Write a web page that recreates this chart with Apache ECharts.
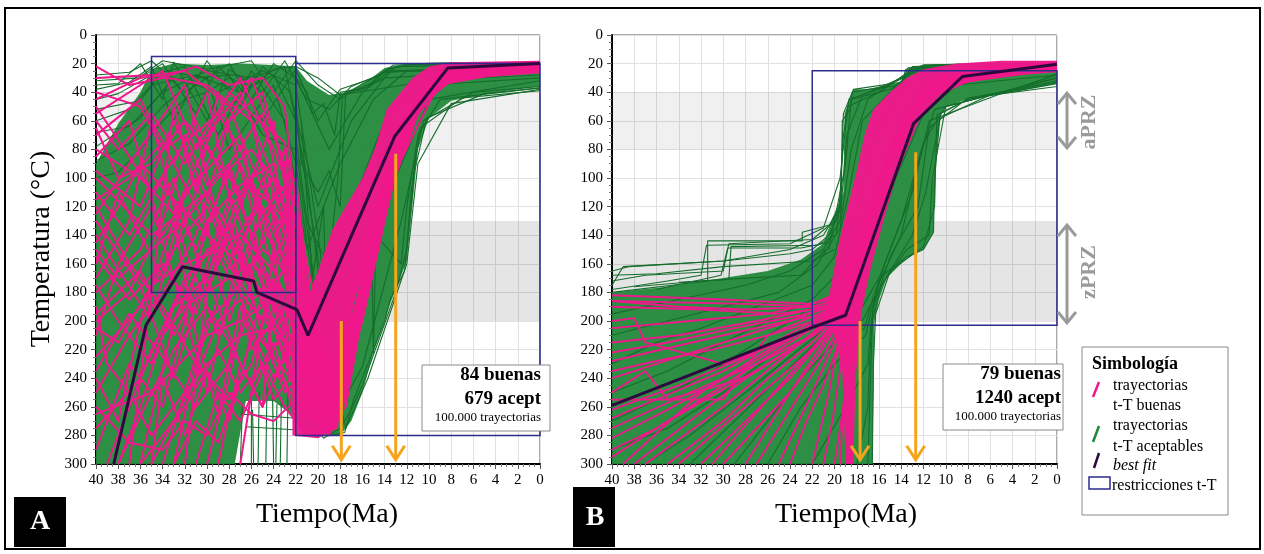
<!DOCTYPE html>
<html><head><meta charset="utf-8">
<script src="https://cdn.jsdelivr.net/npm/echarts@6/dist/echarts.min.js"></script>
<style>html,body{margin:0;padding:0;background:#fff}#c{width:1264px;height:554px}</style>
</head><body><div id="c"></div>
<script>
// ---------- axes ----------
const xRange = [0, 40];      // Ma, drawn reversed
const xStep = 2;
const yRange = [0, 300];     // °C, drawn reversed
const yStep = 20;
// gray partial retention/annealing bands (°C)
const bandAPRZ = [40, 80];
const bandZPRZ = [130, 200];

// ---------- t-T constraints [Ma from, Ma to, T from, T to] ----------
const restrA = [[35, 22, 15, 180], [22, 0, 20, 280]];
const restrB = [[22, 0, 25, 203]];

// ---------- best fit paths [Ma, °C] ----------
const bestFitA = [[38.4,300],[35.5,203],[32.2,162],[25.8,172],[25.5,180],[21.9,192],[20.9,210],[13.1,71],[8.3,23],[0,20]];
const bestFitB = [[40,259],[21.8,204],[19.0,196],[12.9,62],[8.5,29],[0,20.5]];

// ---------- orange arrows [Ma, T start, T end] ----------
const arrowsA = [[17.9, 200, 297], [13.0, 83, 297]];
const arrowsB = [[17.7, 200, 297], [12.7, 82, 297]];

// ---------- dense envelopes ----------
const greenFillA = [[40,90],[38,62],[36,40],[35,24],[33,20],[30,21],[27,20],[24,21],[22,22],[21,32],[19,42],[17.5,40],[15.5,32],[14,23],[12,20],[8,19],[0,20],[0,36],[4,40],[8,46],[10,58],[11,80],[11.5,120],[12,158],[13.5,188],[15,222],[16,250],[17,270],[18,280],[21,280],[22,268],[24,256],[26.5,256],[27.5,300],[40,300]];
const pinkFillA = [[22.3,280],[22.3,215],[21,185],[20,165],[18.7,136],[16,100],[14.9,80],[13.8,52],[11.5,30],[10,22],[8,19],[0,18],[0,27],[4,29],[7,31],[8.5,34],[10.5,48],[12.5,80],[14.7,136],[16.5,180],[17.3,205],[17.8,245],[18.2,275],[20,282]];
const greenFillB = [[40,180],[35,176],[30,170],[26,165],[23,157],[21,146],[20.3,130],[19.2,110],[19.1,55],[18.3,38],[17,38],[16,36],[14,33],[13.3,23],[12,21],[9,20],[0,19],[0,34],[4,40],[7.8,44],[9.9,50],[10.5,55],[11,100],[11.1,138],[12,150],[13.5,156],[15.3,170],[16,185],[16.4,200],[16.6,300],[40,300]];
const pinkFillB = [[21,198],[20.3,175],[19.6,145],[18.8,120],[18,95],[17.3,70],[16.5,52],[15,40],[13.5,30],[12,24],[9,20],[5,18],[0,18],[0,26],[4,28],[8,33],[10.5,42],[12.3,58],[13.5,80],[14.5,100],[15.6,130],[16.8,165],[17.6,195],[18.1,240],[18.3,300],[19.0,300],[19.3,235],[20,210]];

// ---------- individual trajectories [Ma, °C] ----------
const greenPathsA = [
 [[40,28],[37,26],[35,18],[32,40],[28,20],[25,60],[22,24],[20,60],[18,38],[15,30],[13,22],[0,20]],
 [[40,32],[36,30],[34,20],[31,55],[29,22],[26,45],[24,20],[22,30],[19,80],[16,40],[13.5,25],[0,22]],
 [[40,38],[37,33],[35,22],[33,60],[30,18],[27,50],[25,22],[22.5,40],[20,120],[17,60],[14,30],[0,24]],
 [[40,45],[38,41],[35,28],[32,22],[29,70],[26,25],[23,60],[21,150],[18,90],[15,45],[12,25],[0,26]],
 [[40,52],[36,46],[34,25],[30,30],[28,80],[24,35],[22,90],[20,200],[17.5,130],[14,60],[11,32],[0,28]],
 [[40,60],[37,52],[35,35],[31,28],[27,40],[24,28],[22,60],[19.5,180],[17,150],[13.5,70],[10,35],[0,30]],
 [[40,68],[37,64],[34,40],[30,25],[26,30],[23,22],[21,100],[19,230],[16.5,200],[13,100],[10,45],[0,32]],
 [[40,78],[36,58],[33,30],[29,40],[25,25],[22,35],[20,140],[18,260],[16,232],[12.5,130],[10.5,60],[6,40],[0,36]],
 [[40,88],[37,76],[34,50],[31,30],[28,28],[25,70],[22,80],[20,190],[17.5,275],[15.5,240],[12,160],[11,90],[8,48],[0,38]],
 [[40,35],[38,34],[36,20],[34,45],[33,19],[30,60],[28,24],[25,40],[23,18],[21,45],[19,52],[17,36],[14.5,28],[13.2,21],[0,19]],
 [[40,100],[38,96],[36,80],[34,60],[32,45],[30,40],[28,30],[26,36],[24,24],[22,22],[20,30],[18,42],[0,20]],
 [[40,30],[36,29],[34,18],[30,24],[26,18],[24,40],[22,18],[20,35],[18,45],[16,34],[14,26],[0,21]],
 [[22,30],[21,40],[20.5,55],[19.5,48],[18.5,70],[18,40],[16.5,38],[15,33],[13.8,24],[11,20],[0,19]],
 [[22,45],[21.5,90],[20,110],[19,95],[18,120],[17.5,40],[16,38],[14,30],[13,22],[0,21]],
 [[22,70],[21,130],[19.8,150],[19,160],[18.2,100],[17.8,42],[15.5,36],[14.2,26],[0,22]],
 [[21.5,60],[20.5,170],[19.5,120],[19.2,210],[17,170],[15.2,140],[15,222],[14.8,140],[12.5,160],[12,120],[11,70],[9,45],[0,37]],
 [[22,150],[20.8,250],[19,280],[17.6,278],[16.8,255],[15.5,230],[14,200],[13.5,185],[12.2,165],[11.6,110],[10.8,65],[7,44],[0,39]],
 [[22,200],[20.5,270],[19.5,282],[18,275],[17,262],[16,245],[14.6,215],[13,180],[12,150],[11.3,95],[10.2,58],[5,41],[0,37]],
 [[26,300],[26,256]],[[25.4,300],[25.3,250]],[[24.7,300],[24.6,246]],[[24,300],[24.1,250]],
 [[23.4,300],[23.3,255]],[[22.8,300],[22.7,250]],[[27,300],[26.8,258]],[[25.8,300],[25.9,262]],[[23.8,300],[23.7,258]],
 [[27,265],[22,268]],[[26.5,274],[22.2,276]]
];
const pinkPathsA = [
 [[40,30],[35,28],[30,35],[26,60],[22,200],[19,250],[16,160],[13,80],[10,35],[6,22],[0,20]],
 [[40,55],[34,25],[31,80],[27,40],[23,120],[21,260],[17,220],[14,110],[11,50],[7,26],[0,21]],
 [[40,95],[36,120],[33,60],[28,150],[24,100],[22,180],[20,270],[17,180],[13,70],[9,30],[0,22]],
 [[40,125],[37,90],[32,35],[29,130],[26,170],[22,240],[19,275],[16,190],[14,120],[11,55],[8,28],[0,19]],
 [[40,140],[35,200],[32,110],[27,70],[25,140],[22,210],[18,265],[15,150],[12,60],[8,26],[0,24]],
 [[40,160],[38,110],[34,170],[30,90],[26,30],[23,90],[21,230],[17.5,250],[15,140],[12,55],[9,28],[0,20]],
 [[40,180],[36,150],[33,100],[30,180],[27,120],[24,60],[22,150],[20,255],[17,210],[14,100],[10,40],[7,26],[0,23]],
 [[40,200],[37,180],[34,130],[31,60],[28,110],[25,175],[21,205],[18.5,260],[16,170],[13,80],[10,32],[0,21]],
 [[40,225],[36,190],[33,150],[30,120],[27,175],[24,130],[22,190],[19.5,270],[16.5,185],[13,75],[9,27],[0,20]],
 [[40,250],[37,210],[34,180],[31,140],[28,60],[25,40],[22.5,110],[20,240],[17,230],[14,110],[11,45],[8,30],[0,25]],
 [[40,275],[36,240],[32,170],[29,145],[26,100],[23,170],[21,250],[18,270],[15.5,160],[12,60],[8,25],[0,19]],
 [[39,300],[35,220],[31,160],[28,90],[25,55],[22.5,140],[19,245],[16,175],[13,85],[10,38],[7,26],[0,22]],
 [[36,300],[33,200],[30,150],[27,140],[24,165],[21,215],[18,255],[15,145],[12,62],[9,30],[0,24]],
 [[33,300],[31,230],[28,160],[26,130],[23,80],[21,190],[18.5,265],[16,180],[13,78],[10,30],[0,20]],
 [[30,300],[28,240],[26,170],[24,110],[22,130],[20,220],[17.5,245],[14.5,125],[11,48],[7,24],[0,21]],
 [[40,110],[37,140],[34,100],[31,150],[28,95],[25,165],[22,230],[19,270],[16,195],[13,90],[10,38],[7,25],[0,23]],
 [[40,70],[36,45],[33,90],[30,40],[27,150],[24,200],[21,240],[17,205],[14,100],[11,42],[8,27],[0,20]],
 [[38,300],[36,260],[34,210],[32,190],[29,175],[26,160],[23,180],[20,260],[17,225],[14,115],[11,50],[8,28],[0,22]],
 [[40,265],[35,250],[30,210],[27,200],[24,185],[22,220],[19,280],[16,200],[13,95],[9,32],[0,21]],
 [[34,300],[32,250],[30,200],[28,185],[25,150],[22,170],[20,235],[17,215],[14,105],[10,36],[0,20]],
 [[40,45],[36,30],[32,25],[28,50],[26,90],[23,140],[21,245],[18,260],[15,160],[12,65],[8,27],[0,19]],
 [[40,150],[38,170],[35,150],[32,130],[29,100],[26,80],[23,110],[21,200],[18,240],[15,135],[12,58],[9,30],[0,21]],
 [[27,300],[26,250],[25,200],[24,150],[23,120],[21,180],[18.5,255],[16,170],[13,82],[10,34],[0,22]],
 [[40,190],[39,230],[37,250],[35,280],[33,260],[30,230],[27,210],[24,205],[22,250],[19,265],[16,190],[13,88],[10,36],[0,20]],
 [[40,85],[37,60],[34,140],[31,100],[28,200],[25,120],[22,175],[19.5,265],[16.5,190],[13.5,95],[10,36],[0,21]],
 [[40,130],[36,175],[33,240],[30,160],[27,90],[24,150],[22,260],[18.5,275],[15.5,170],[12.5,70],[9,29],[0,20]],
 [[40,170],[37,130],[35,60],[32,150],[29,210],[26,140],[23,200],[20,265],[17,230],[14,120],[11,50],[8,28],[0,23]],
 [[40,210],[38,160],[35,120],[33,170],[30,250],[28,180],[25,100],[23,150],[21,220],[18,250],[15,145],[12,60],[9,30],[0,21]],
 [[40,240],[38,270],[36,200],[33,130],[31,210],[29,265],[27,190],[24,240],[22,205],[19,255],[16,175],[13,80],[10,33],[0,22]],
 [[40,290],[37,230],[34,260],[32,200],[30,130],[27,105],[24,90],[22,160],[20,250],[17,220],[14,110],[11,45],[8,27],[0,20]],
 [[37,300],[35,180],[33,50],[31,110],[29,40],[26,120],[24,230],[21,270],[18,262],[15,150],[12,58],[8,26],[0,22]],
 [[32,300],[30,180],[28,130],[25,210],[23,250],[21,235],[18.5,258],[16,185],[13,85],[10,35],[0,20]],
 [[29,300],[27,230],[25,260],[24,180],[22,195],[20,245],[17.5,235],[14.5,120],[11.5,50],[8.5,29],[0,23]],
 [[40,22],[37,35],[34,30],[31,22],[28,35],[25,30],[23,50],[21,190],[18,245],[15,150],[12,60],[9,30],[0,21]],
 [[40,60],[38,80],[35,55],[32,90],[30,65],[27,30],[24,80],[22,120],[20,220],[17.5,240],[14.5,130],[11,48],[8,27],[0,20]],
 [[40,115],[37,100],[34,75],[31,120],[28,170],[25,200],[23,160],[21,215],[18.5,270],[16,180],[13,80],[9,28],[0,22]],
 [[40,145],[38,120],[36,90],[33,115],[30,140],[27,160],[24,190],[22,245],[19,272],[16.5,200],[13.5,95],[10,35],[0,21]],
 [[40,175],[38,200],[35,230],[33,190],[30,170],[27,230],[25,260],[23,225],[21,265],[18,268],[15.5,160],[12,62],[9,30],[0,20]],
 [[40,195],[36,165],[33,210],[31,180],[28,140],[26,220],[24,200],[22,230],[19.5,262],[16,190],[13,88],[10,36],[0,22]],
 [[40,235],[37,195],[34,225],[31,260],[28,230],[26,190],[23,215],[20.5,250],[17.5,250],[14.5,130],[11.5,52],[8.5,29],[0,21]],
 [[35,300],[33,270],[31,240],[29,200],[27,185],[25,215],[23,235],[20,270],[17,225],[14,110],[11,45],[8,27],[0,20]],
 [[31,300],[29,250],[27,270],[25,235],[23,205],[21,225],[18,258],[15,145],[12,56],[8,26],[0,22]],
 [[40,80],[36,100],[33,125],[30,75],[28,40],[26,55],[23,75],[21,160],[18.5,240],[16,175],[13,78],[10,32],[0,20]],
 [[40,50],[37,85],[35,110],[32,75],[29,55],[27,80],[25,125],[23,105],[21,170],[19,255],[16,180],[13,82],[10,36],[7,25],[0,21]],
 [[40,100],[35,140],[30,110],[27,150],[25,210],[23,190],[22,240],[20,270],[17.5,255],[15,150],[12,62],[9,30],[0,21]],
 [[36,300],[32,260],[29,220],[27,250],[25,230],[23,260],[21,280],[18.5,270],[16,185],[13,86],[10,34],[0,20]],
 [[40,120],[37,160],[34,190],[31,230],[28,255],[26,230],[24,170],[22.5,200],[20.5,260],[17.8,262],[15,150],[12,58],[9,30],[0,22]],
 [[40,65],[38,100],[35,90],[32,60],[29,90],[27,110],[25,90],[23,130],[21,210],[19,262],[16,185],[13,85],[10,36],[7,25],[0,21]],
 [[38,300],[35,250],[33,220],[30,190],[28,215],[26,245],[24,215],[22,270],[20,280],[17.5,260],[14.5,130],[11,48],[8,27],[0,20]],
 [[40,155],[37,185],[34,160],[31,195],[28,120],[26,105],[24,120],[22,100],[20.5,200],[18,255],[15.5,158],[12,60],[9,30],[0,22]],
 [[40,260],[37,285],[34,290],[32,270],[30,280],[28,250],[26,265],[24,270],[22,255],[19.5,275],[16.5,195],[13.5,95],[10.5,40],[7,25],[0,21]],
 [[33,300],[31,270],[29,285],[27,240],[25,180],[23,140],[21.5,175],[19.5,245],[16.5,190],[13.5,92],[10,35],[0,20]],
 [[40,40],[38,45],[36,50],[34,80],[32,70],[30,105],[28,90],[26,140],[24,120],[22,140],[20,230],[17,225],[14,110],[11,48],[8,28],[0,22]],
 [[40,205],[38,215],[35,175],[32,160],[29,150],[26,185],[24,175],[22,200],[20,245],[17.5,245],[14.5,128],[11.5,50],[8.5,29],[0,21]],
 [[35,300],[34,240],[32,280],[30,235],[28,270],[26,210],[24,255],[22,235],[20,265],[17,228],[14,115],[11,48],[8,27],[0,20]]
];
const greenPathsB = [
 [[40,165],[38.5,162],[30,158],[24,150],[21,140],[19.5,120],[19.2,55],[18.3,38],[14,33],[13,22],[0,19]],
 [[40,172],[37,168],[30,165],[29.5,146],[22,143],[20,130],[19,90],[18.5,45],[15,38],[12,21],[0,20]],
 [[40,178],[35,172],[32,168],[31.5,147],[24,146],[21,135],[19.5,100],[18.8,50],[16,40],[13,24],[0,21]],
 [[40,175],[39,162],[30,158],[24,153],[22,150],[20.5,140],[19.6,125]],
 [[40,180],[31.4,172],[31.4,144],[22.9,144],[22.9,138],[20,132]],
 [[36,178],[30.2,168],[29.6,149],[23,149],[20.5,145]],
 [[38,176],[32,172],[29.5,171],[29.3,148],[21.5,147],[20,140]],
 [[34,173],[28,170],[23,168],[20.8,150]],
 [[40,168],[36,167],[30,162],[22,158],[20,150]],
 [[40,195],[34,185],[28,175],[24,165],[21,150],[19.5,130],[18.9,70],[17.5,42],[14,30],[11,21],[0,19]],
 [[40,210],[35,200],[30,190],[25,180],[21.5,160],[19.5,135],[18.5,80],[17,45],[14.5,32],[12,21],[0,20]],
 [[40,230],[36,215],[32,205],[27,190],[22,175],[20,155],[18.7,110],[17.5,60],[15,40],[13,25],[0,21]],
 [[40,250],[35,235],[30,215],[26,200],[22,185],[19.5,165],[18,120],[16.5,70],[14,38],[11,24],[0,22]],
 [[40,270],[36,255],[31,235],[27,215],[23,195],[20,180],[18,150],[15,90],[13,50],[10,30],[0,24]],
 [[40,290],[35,275],[30,250],[25,220],[21,200],[18.5,185],[16.5,150],[14.5,100],[12,55],[9,35],[0,28]],
 [[37,300],[33,280],[28,250],[24,225],[20,200],[17.5,190],[16,170],[13.5,155],[12,150],[11.1,138],[11,100],[10.5,55],[8,45],[0,34]],
 [[33,300],[29,270],[25,240],[21,210],[17.5,200],[16.5,185],[15,165],[13,140],[11.8,110],[10.5,58],[6,42],[0,32]],
 [[29,300],[26,270],[23,240],[20,215],[17.3,205],[16.4,180],[14,140],[12.5,90],[11,52],[5,40],[0,30]],
 [[26,300],[23,260],[20,230],[17.2,210],[16.6,190],[15.5,160],[13,110],[11.5,60],[4,38],[0,28]],
 [[22,300],[19,260],[17,230],[16.7,200],[16,170],[14,130],[12,75],[10,50],[3,36],[0,27]],
 [[18,300],[17,260],[16.8,220],[16.5,190],[15,155],[12.5,120],[11.5,65],[8,44],[0,33]],
 [[17,300],[16.8,250],[16.6,200],[15.8,175],[13.5,150],[11.5,140],[11.2,100],[10,50],[0,30]],
 [[16.6,300],[16.5,230],[16.3,195],[15,165],[12,148],[11,120],[10.8,56],[7.8,44],[0,36]],
 [[20.5,150],[20,128],[19.4,122],[19.3,60],[18.6,52],[18.4,40],[17,38],[14,35],[13.6,24],[0,22]],
 [[19.8,138],[19.5,112],[19.2,70],[18.7,45],[16,38],[13.8,30],[13.4,23],[0,20]]
];
const pinkPathsB = [
 [[40,182],[30,185],[22,188],[19.5,180],[17,120],[14,60],[11,30],[6,22],[0,20]],
 [[40,190],[32,192],[25,195],[20,190],[17.5,140],[15,80],[12,40],[8,25],[0,21]],
 [[40,205],[33,200],[26,195],[20.5,185],[18,150],[15.5,95],[13,50],[9,28],[0,22]],
 [[40,215],[34,210],[27,200],[21,190],[18.5,170],[16,110],[13.5,60],[10,30],[0,20]],
 [[40,228],[30,210],[23,198],[19.5,195],[17.5,150],[14.5,75],[12,38],[7,23],[0,19]],
 [[40,240],[32,220],[24,200],[20,188],[18,155],[15,85],[12.5,45],[9,27],[0,23]],
 [[40,255],[30,255],[26,210],[20.5,192],[18.2,160],[16,105],[13,55],[10,32],[0,25]],
 [[40,268],[30,235],[22,200],[19,185],[17,140],[14,65],[11,33],[5,22],[0,20]],
 [[40,282],[35,262],[28,232],[21,198],[18.8,175],[16.5,120],[13.8,65],[10.5,35],[0,24]],
 [[40,295],[33,260],[25,220],[20,195],[17.8,160],[15.5,100],[12.8,50],[8,26],[0,21]],
 [[37,300],[30,260],[23,215],[19.7,193],[18,165],[15.2,95],[12,40],[8,27],[0,20]],
 [[34,300],[28,260],[22,220],[19.5,198],[17.5,150],[14.8,80],[12.3,42],[8,24],[0,22]],
 [[31,300],[26,255],[21,210],[19,190],[17.2,145],[14.5,78],[11.5,36],[0,19]],
 [[28,300],[24,250],[21,215],[19.3,195],[17.8,160],[15.8,105],[13.2,55],[9.5,28],[0,23]],
 [[25,300],[22,250],[20,215],[18.8,195],[17,145],[14.2,70],[11.8,38],[0,21]],
 [[22,300],[20.5,250],[19.5,210],[18.5,185],[16.8,135],[14,65],[11,32],[0,20]],
 [[20,300],[19,250],[18.7,205],[18,170],[16.5,125],[13.8,62],[10.5,30],[0,22]],
 [[18.5,300],[18.4,240],[18.2,200],[17.5,165],[16,115],[13.5,58],[10,28],[0,24]],
 [[39,300],[32,250],[27,225],[21.5,200],[19,182],[16.8,130],[14,68],[11.2,34],[0,20]],
 [[40,186],[28,188],[21,190],[19.2,175],[17.2,130],[14.6,75],[12,40],[8,27],[0,21]],
 [[40,200],[38,198],[37,215],[30,230],[24,212],[20,192],[18.4,165],[15.6,100],[12.6,48],[9,30],[0,22]],
 [[40,250],[37,235],[35,255],[28,240],[22,210],[19.6,190],[17.6,150],[15,88],[12.2,44],[8.5,29],[0,20]],
 [[40,186],[34,190],[28,192],[22,190],[19.8,185],[17.6,145],[15,85],[12.5,42],[8.5,28],[0,20]],
 [[40,222],[35,215],[29,205],[23,196],[20,190],[18,150],[15.2,90],[12,40],[8,27],[0,22]],
 [[40,262],[34,245],[28,225],[22,205],[19.4,192],[17.4,145],[14.6,80],[11.8,38],[0,21]],
 [[40,275],[33,250],[27,230],[22,210],[19.6,195],[17.8,160],[15.4,98],[12.4,45],[8.5,29],[0,23]],
 [[38,300],[33,270],[28,240],[23,215],[20,198],[18.2,165],[15.8,105],[13,52],[9,27],[0,20]],
 [[35,300],[30,270],[26,240],[22,215],[19.8,197],[17.9,160],[15.3,95],[12.7,48],[9,29],[0,22]],
 [[32,300],[28,270],[24,240],[21,212],[19.4,196],[17.6,155],[15,90],[12.5,45],[8.5,28],[0,21]],
 [[30,300],[27,275],[24,250],[21.5,225],[19.6,200],[18,165],[15.6,100],[12.8,50],[9,30],[0,24]],
 [[27,300],[25,275],[23,250],[20.8,222],[19.3,200],[17.7,160],[15.2,95],[12.2,44],[8.5,28],[0,20]],
 [[24,300],[22.5,270],[21,245],[19.8,220],[19,195],[17.3,150],[14.8,85],[12,40],[8,27],[0,22]],
 [[21,300],[20.2,270],[19.6,240],[19.1,210],[18.5,185],[16.9,140],[14.3,75],[11.5,36],[0,21]],
 [[19.5,300],[19.2,260],[18.9,225],[18.6,195],[17.8,170],[16.2,120],[13.6,60],[10.8,32],[0,23]],
 [[40,235],[36,228],[31,220],[26,210],[21,198],[19.2,188],[17.1,135],[14.4,74],[11.6,37],[0,20]],
 [[40,290],[36,275],[31,252],[26,230],[21.5,208],[19.5,193],[17.7,155],[15.1,92],[12.3,44],[8.5,28],[0,21]]
];

// ---------- texts ----------
const statsA = ['84 buenas', '679 acept', '100.000 trayectorias'];
const statsB = ['79 buenas', '1240 acept', '100.000 trayectorias'];
const yTitle = 'Temperatura (°C)';
const xTitle = 'Tiempo(Ma)';
const legendTitle = 'Simbología';
const legendLabels = [['trayectorias', 't-T buenas'], ['trayectorias', 't-T aceptables'], ['best fit'], ['restricciones t-T']];

// ---------- styling ----------
const F = '"Liberation Serif", "Times New Roman", serif';
const GREEN = '#22893a', GREEN_D = '#156d2c', PINK = '#ef188b', BEST = '#2c0a3e', NAVY = '#2d2b8e', ORANGE = '#f6a41c';

function xAx(i) {
  return {
    gridIndex: i, type: 'value', min: xRange[0], max: xRange[1], interval: xStep, inverse: true,
    axisLine: { show: true, onZero: false, lineStyle: { color: '#000', width: 2 } },
    axisTick: { show: true, length: 5, lineStyle: { color: '#555' } },
    minorTick: { show: true, splitNumber: 4, length: 3, lineStyle: { color: '#777' } },
    axisLabel: { color: '#000', fontFamily: F, fontSize: 15, margin: 9 },
    splitLine: { show: true, lineStyle: { color: '#e1e1e1', width: 1 } }
  };
}
function yAx(i) {
  return {
    gridIndex: i, type: 'value', min: yRange[0], max: yRange[1], interval: yStep, inverse: true,
    axisLine: { show: true, onZero: false, lineStyle: { color: '#000', width: 2 } },
    axisTick: { show: true, length: 5, lineStyle: { color: '#555' } },
    minorTick: { show: true, splitNumber: 4, length: 3, lineStyle: { color: '#777' } },
    axisLabel: { color: '#000', fontFamily: F, fontSize: 15, margin: 9 },
    splitLine: { show: true, lineStyle: { color: '#e1e1e1', width: 1 } }
  };
}
function polySeries(i, poly, color, opacity) {
  return {
    type: 'custom', xAxisIndex: i, yAxisIndex: i, silent: true, clip: true,
    data: [[20, 150]],
    renderItem: function (params, api) {
      return { type: 'polygon', shape: { points: poly.map(p => api.coord(p)) }, style: { fill: color, opacity: opacity } };
    }
  };
}
function pathSeries(i, paths, color, width) {
  return {
    type: 'custom', xAxisIndex: i, yAxisIndex: i, silent: true, clip: true,
    data: paths.map(p => [p[0][0], p[0][1]]),
    renderItem: function (params, api) {
      const pts = paths[params.dataIndex].map(p => api.coord(p));
      return { type: 'polyline', shape: { points: pts }, style: { stroke: color, lineWidth: width, fill: null, lineJoin: 'round' } };
    }
  };
}
function bandSeries(i) {
  return {
    type: 'line', xAxisIndex: i, yAxisIndex: i, data: [], silent: true,
    markArea: {
      silent: true,
      data: [
        [{ yAxis: bandAPRZ[0], itemStyle: { color: 'rgba(0,0,0,0.06)' } }, { yAxis: bandAPRZ[1] }],
        [{ yAxis: bandZPRZ[0], itemStyle: { color: 'rgba(0,0,0,0.10)' } }, { yAxis: bandZPRZ[1] }]
      ]
    }
  };
}
function restrSeries(i, boxes) {
  return {
    type: 'custom', xAxisIndex: i, yAxisIndex: i, silent: true,
    data: boxes, encode: { x: [0, 1], y: [2, 3] },
    renderItem: function (params, api) {
      const a = api.coord([api.value(0), api.value(2)]);
      const b = api.coord([api.value(1), api.value(3)]);
      return { type: 'rect', shape: { x: Math.min(a[0], b[0]), y: Math.min(a[1], b[1]), width: Math.abs(b[0] - a[0]), height: Math.abs(b[1] - a[1]) },
        style: { fill: null, stroke: NAVY, lineWidth: 1.5 } };
    }
  };
}
function bestSeries(i, pts) {
  return { type: 'line', xAxisIndex: i, yAxisIndex: i, data: pts, symbol: 'none', silent: true,
    lineStyle: { color: BEST, width: 3 } };
}
function arrowSeries(i, arr) {
  return {
    type: 'custom', xAxisIndex: i, yAxisIndex: i, silent: true,
    data: arr, encode: { x: 0, y: [1, 2] },
    renderItem: function (params, api) {
      const p0 = api.coord([api.value(0), api.value(1)]);
      const p1 = api.coord([api.value(0), api.value(2)]);
      return { type: 'group', children: [
        { type: 'line', shape: { x1: p0[0], y1: p0[1], x2: p1[0], y2: p1[1] }, style: { stroke: ORANGE, lineWidth: 3 } },
        { type: 'polyline', shape: { points: [[p1[0] - 9, p1[1] - 14], [p1[0], p1[1]], [p1[0] + 9, p1[1] - 14]] }, style: { stroke: ORANGE, lineWidth: 3, fill: null } }
      ] };
    }
  };
}

function txt(x, y, text, font, extra, rot) {
  const el = { type: 'text', x: x, y: y, z: 120, style: Object.assign({ text: text, font: font, fill: '#000', align: 'center', verticalAlign: 'middle' }, extra || {}) };
  if (rot) el.rotation = rot;
  return el;
}
function dblArrow(x, y0, y1) {
  const s = { stroke: '#9a9a9a', lineWidth: 3, fill: null };
  return [
    { type: 'line', z: 120, shape: { x1: x, y1: y0 + 1, x2: x, y2: y1 - 1 }, style: s },
    { type: 'polyline', z: 120, shape: { points: [[x - 9, y0 + 11], [x, y0], [x + 9, y0 + 11]] }, style: s },
    { type: 'polyline', z: 120, shape: { points: [[x - 9, y1 - 11], [x, y1], [x + 9, y1 - 11]] }, style: s }
  ];
}

const graphic = [
  { type: 'rect', z: 130, shape: { x: 5, y: 8, width: 1255, height: 541 }, style: { fill: null, stroke: '#000', lineWidth: 2 } },
  txt(42, 249, yTitle, '28px ' + F, {}, Math.PI / 2),
  txt(327, 515, xTitle, '28px ' + F),
  txt(846, 515, xTitle, '28px ' + F),
  { type: 'rect', z: 120, shape: { x: 14, y: 497, width: 52, height: 50 }, style: { fill: '#000' } },
  txt(40, 522, 'A', 'bold 28px ' + F, { fill: '#fff' }),
  { type: 'rect', z: 120, shape: { x: 573, y: 487, width: 42, height: 60 }, style: { fill: '#000' } },
  txt(595, 518, 'B', 'bold 28px ' + F, { fill: '#fff' }),
  // info boxes
  { type: 'rect', z: 120, shape: { x: 422, y: 365, width: 128, height: 66 }, style: { fill: '#fff', stroke: '#8a8a8a', lineWidth: 1 } },
  txt(541, 375, statsA[0], 'bold 19px ' + F, { align: 'right' }),
  txt(541, 399, statsA[1], 'bold 19px ' + F, { align: 'right' }),
  txt(541, 418, statsA[2], '13px ' + F, { align: 'right' }),
  { type: 'rect', z: 120, shape: { x: 943, y: 364, width: 120, height: 66 }, style: { fill: '#fff', stroke: '#8a8a8a', lineWidth: 1 } },
  txt(1061, 374, statsB[0], 'bold 19px ' + F, { align: 'right' }),
  txt(1061, 398, statsB[1], 'bold 19px ' + F, { align: 'right' }),
  txt(1061, 417, statsB[2], '13px ' + F, { align: 'right' }),
  // PRZ annotations
  ...dblArrow(1067, 93, 148),
  ...dblArrow(1067, 225, 323),
  txt(1089, 122, 'aPRZ', 'bold 22px ' + F, { fill: '#9a9a9a' }, Math.PI / 2),
  txt(1089, 272, 'zPRZ', 'bold 22px ' + F, { fill: '#9a9a9a' }, Math.PI / 2),
  // legend
  { type: 'rect', z: 120, shape: { x: 1082, y: 347, width: 146, height: 168 }, style: { fill: '#fff', stroke: '#8a8a8a', lineWidth: 1 } },
  txt(1092, 364, legendTitle, 'bold 18px ' + F, { align: 'left' }),
  { type: 'line', z: 121, shape: { x1: 1093, y1: 397, x2: 1099, y2: 382 }, style: { stroke: PINK, lineWidth: 2.5 } },
  txt(1113, 386, legendLabels[0][0], '16px ' + F, { align: 'left' }),
  txt(1113, 406, legendLabels[0][1], '16px ' + F, { align: 'left' }),
  { type: 'line', z: 121, shape: { x1: 1093, y1: 442, x2: 1099, y2: 426 }, style: { stroke: GREEN, lineWidth: 2.5 } },
  txt(1113, 426, legendLabels[1][0], '16px ' + F, { align: 'left' }),
  txt(1113, 447, legendLabels[1][1], '16px ' + F, { align: 'left' }),
  { type: 'line', z: 121, shape: { x1: 1094, y1: 468, x2: 1099, y2: 453 }, style: { stroke: BEST, lineWidth: 2.5 } },
  txt(1113, 466, legendLabels[2][0], 'italic 16px ' + F, { align: 'left' }),
  { type: 'rect', z: 121, shape: { x: 1089, y: 477, width: 21, height: 12 }, style: { fill: null, stroke: NAVY, lineWidth: 1.5 } },
  txt(1112, 486, legendLabels[3][0], '16px ' + F, { align: 'left' })
];

const chart = echarts.init(document.getElementById('c'), null, { renderer: 'canvas' });
chart.setOption({
  animation: false,
  backgroundColor: '#fff',
  grid: [
    { left: 96, top: 35, width: 444, height: 429, show: true, borderColor: '#555', borderWidth: 1, backgroundColor: 'transparent' },
    { left: 612, top: 35, width: 445, height: 429, show: true, borderColor: '#555', borderWidth: 1, backgroundColor: 'transparent' }
  ],
  xAxis: [xAx(0), xAx(1)],
  yAxis: [yAx(0), yAx(1)],
  series: [
    bandSeries(0), bandSeries(1),
    polySeries(0, greenFillA, GREEN, 0.95), polySeries(1, greenFillB, GREEN, 0.95),
    pathSeries(0, greenPathsA, GREEN_D, 1.1), pathSeries(1, greenPathsB, GREEN_D, 1.1),
    polySeries(0, pinkFillA, PINK, 0.97), polySeries(1, pinkFillB, PINK, 0.97),
    pathSeries(0, pinkPathsA, PINK, 2.0), pathSeries(1, pinkPathsB, PINK, 1.9),
    bestSeries(0, bestFitA), bestSeries(1, bestFitB),
    restrSeries(0, restrA), restrSeries(1, restrB),
    arrowSeries(0, arrowsA), arrowSeries(1, arrowsB)
  ],
  graphic: graphic
});
</script>
</body></html>
